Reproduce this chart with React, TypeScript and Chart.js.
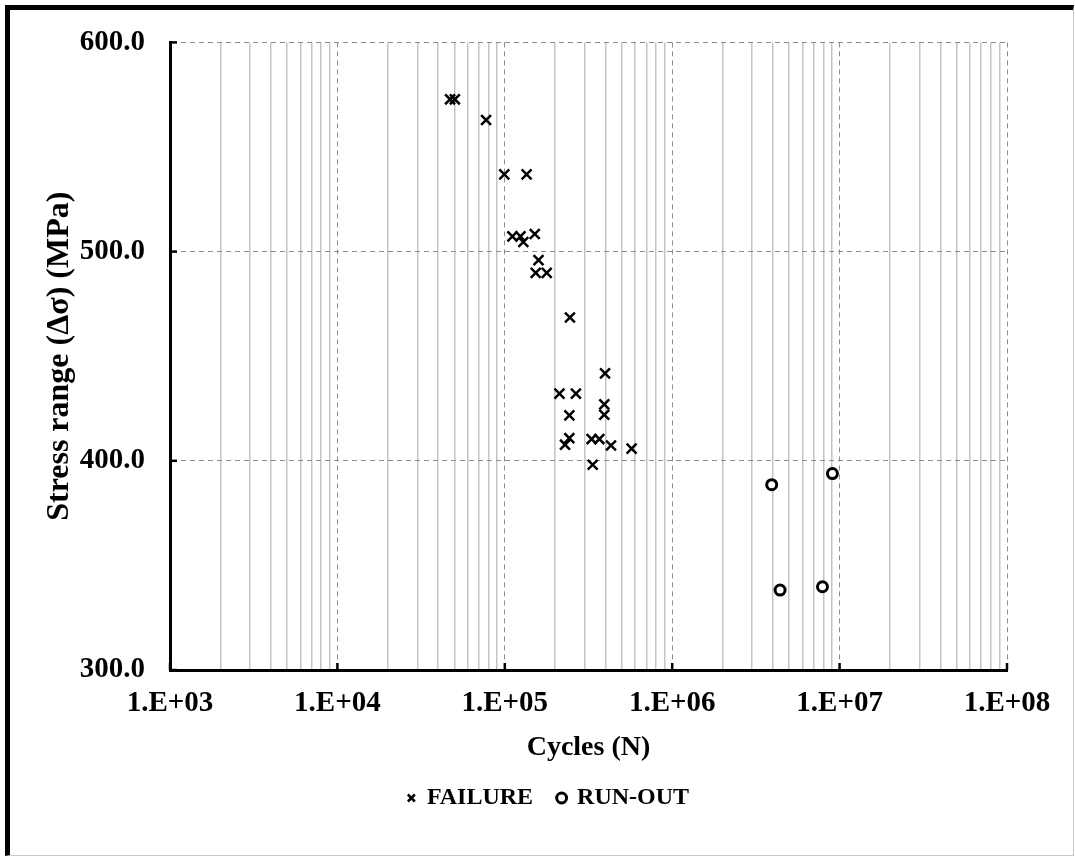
import React, { useEffect, useRef } from "react";
import { Chart, registerables } from "chart.js";

Chart.register(...registerables);

// Failure data: cycles (N) and stress range (MPa)
const failureCycles = [
  47100, 50300, 77300, 99300, 135000, 111000, 124000, 129000, 151000, 159000,
  153000, 178000, 245000, 397000, 212000, 266000, 243000, 393000, 393000,
  243000, 229000, 330000, 367000, 431000, 572000, 335000,
];
const failureStress = [
  572.8, 572.8, 562.9, 536.9, 536.9, 507.3, 507.3, 504.6, 508.4, 495.9, 489.8,
  489.8, 468.5, 441.8, 432.1, 432.1, 421.7, 427.0, 422.0, 410.8, 407.7, 410.4,
  410.4, 407.3, 405.8, 398.1,
];

// Run-out data
const runoutCycles = [3930000, 9060000, 4410000, 7900000];
const runoutStress = [388.6, 393.9, 338.2, 339.8];

const seriesNames = ["FAILURE", "RUN-OUT"];
const xTitle = "Cycles (N)";
const yTitle = "Stress range (\u0394\u03c3) (MPa)";
const xMin = 1e3;
const xMax = 1e8;
const yMin = 300;
const yMax = 600;
const yStep = 100;

const FONT = "'Liberation Serif', 'Times New Roman', serif";

const isDecade = (v: number) => {
  const e = Math.round(Math.log10(v));
  return Math.abs(v - Math.pow(10, e)) < 1e-6 * v;
};

const xTickValues: number[] = (() => {
  const out: number[] = [];
  for (let e = 3; e < 8; e++) {
    for (let m = 1; m <= 9; m++) out.push(m * Math.pow(10, e));
  }
  out.push(1e8);
  return out;
})();

const innerTicks = {
  id: "innerTicks",
  afterDatasetsDraw(chart: any) {
    const { ctx, chartArea, scales } = chart;
    ctx.save();
    ctx.strokeStyle = "#000";
    ctx.lineWidth = 2.5;
    ctx.setLineDash([]);
    for (let e = 3; e <= 8; e++) {
      const x = scales.x.getPixelForValue(Math.pow(10, e));
      ctx.beginPath();
      ctx.moveTo(x, chartArea.bottom);
      ctx.lineTo(x, chartArea.bottom - 7);
      ctx.stroke();
    }
    for (let v = yMin; v <= yMax; v += yStep) {
      const y = scales.y.getPixelForValue(v);
      ctx.beginPath();
      ctx.moveTo(chartArea.left, y);
      ctx.lineTo(chartArea.left + 7, y);
      ctx.stroke();
    }
    ctx.restore();
  },
};

// nudge the legend a little to the right, as in the reference
const legendShift = {
  id: "legendShift",
  afterLayout(chart: any) {
    if (chart.legend) {
      chart.legend.left += 5;
      chart.legend.right += 5;
    }
  },
};

export default function App() {
  const ref = useRef<HTMLCanvasElement | null>(null);

  useEffect(() => {
    if (!ref.current) return;
    const chart = new Chart(ref.current, {
      type: "scatter",
      data: {
        datasets: [
          {
            label: seriesNames[0],
            data: failureCycles.map((x, i) => ({ x, y: failureStress[i] })),
            pointStyle: "crossRot",
            radius: 7,
            borderWidth: 2.5,
            borderColor: "#000",
            backgroundColor: "#000",
          },
          {
            label: seriesNames[1],
            data: runoutCycles.map((x, i) => ({ x, y: runoutStress[i] })),
            pointStyle: "circle",
            radius: 5,
            borderWidth: 3,
            borderColor: "#000",
            backgroundColor: "#fff",
          },
        ],
      },
      options: {
        responsive: false,
        animation: false,
        events: [],
        layout: { padding: { left: 80, top: 38, right: 68, bottom: 37 } },
        plugins: {
          tooltip: { enabled: false },
          legend: {
            position: "bottom",
            labels: {
              usePointStyle: true,
              boxWidth: 7,
              boxHeight: 7,
              padding: 25,
              color: "#000",
              font: { family: FONT, size: 24, weight: "bold" },
            },
          },
        },
        scales: {
          x: {
            type: "logarithmic",
            min: xMin,
            max: xMax,
            afterBuildTicks: (scale: any) => {
              scale.ticks = xTickValues.map((value) => ({ value }));
            },
            afterFit: (scale: any) => {
              scale.height = 91;
            },
            ticks: {
              autoSkip: false,
              maxRotation: 0,
              minRotation: 0,
              padding: 16,
              color: "#000",
              font: { family: FONT, size: 29, weight: "bold" },
              callback: (v: any) => {
                const n = Number(v);
                if (!isDecade(n)) return "";
                const e = Math.round(Math.log10(n));
                return "1.E+" + (e < 10 ? "0" + e : String(e));
              },
            },
            grid: {
              drawTicks: false,
              color: (c: any) =>
                c.tick && isDecade(c.tick.value) ? "#8c8c8c" : "#c4c4c4",
              lineWidth: (c: any) =>
                c.tick && isDecade(c.tick.value) ? 1 : 1.5,
            },
            border: {
              display: true,
              color: "#000",
              width: 3,
              dash: (c: any) =>
                c.tick && isDecade(c.tick.value) ? [5, 4] : [],
            },
            title: {
              display: true,
              text: xTitle,
              color: "#000",
              font: { family: FONT, size: 28, weight: "bold" },
              padding: { top: 0, bottom: -4 },
            },
          },
          y: {
            type: "linear",
            min: yMin,
            max: yMax,
            afterFit: (scale: any) => {
              scale.width = 90;
            },
            ticks: {
              stepSize: yStep,
              padding: 25,
              color: "#000",
              font: { family: FONT, size: 29, weight: "bold" },
              callback: (v: any) => Number(v).toFixed(1),
            },
            grid: {
              drawTicks: false,
              color: "#8c8c8c",
              lineWidth: 1,
            },
            border: {
              display: true,
              color: "#000",
              width: 3,
              dash: [5, 4],
            },
            title: {
              display: true,
              text: yTitle,
              color: "#000",
              font: { family: FONT, size: 32, weight: "bold" },
              padding: { top: -39, bottom: 0 },
            },
          },
        },
      },
      plugins: [innerTicks, legendShift],
    } as any);
    return () => chart.destroy();
  }, []);

  return (
    <div
      style={{
        position: "absolute",
        left: 0,
        top: 0,
        width: 1075,
        height: 857,
        background: "#fff",
      }}
    >
      <canvas
        ref={ref}
        width={1075}
        height={857}
        style={{ position: "absolute", left: 0, top: 0 }}
      />
      <div
        style={{
          position: "absolute",
          left: 5,
          top: 5,
          width: 1069,
          height: 851,
          boxSizing: "border-box",
          borderLeft: "5px solid #000",
          borderTop: "5px solid #000",
          borderRight: "1px solid #c8c8c8",
          borderBottom: "1px solid #c8c8c8",
          pointerEvents: "none",
        }}
      />
    </div>
  );
}
